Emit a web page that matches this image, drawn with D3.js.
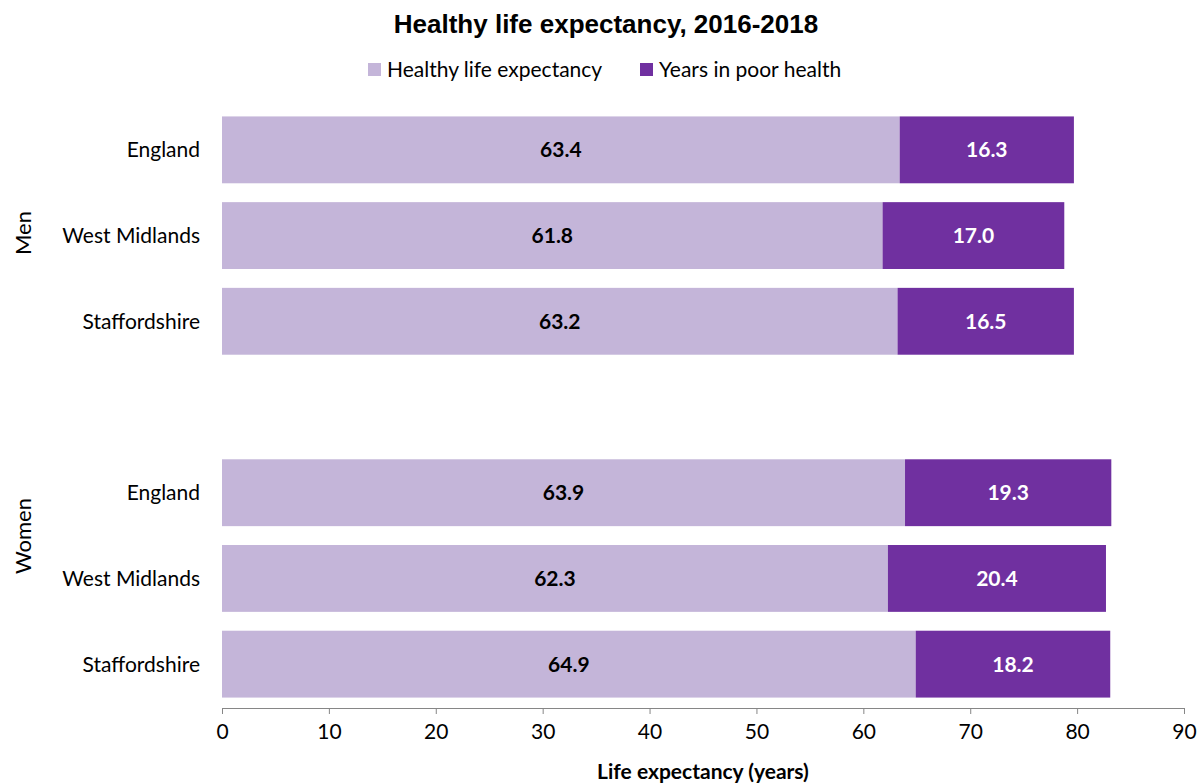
<!DOCTYPE html>
<html>
<head>
<meta charset="utf-8">
<script src="https://cdn.jsdelivr.net/npm/d3@7"></script>
<style>
  body { margin: 0; background: #fff; }
  svg { display: block; }
</style>
</head>
<body>
<svg id="drawing_region"></svg>
<script>
// data
const groups = ["Men", "Women"];
const places = ["England", "West Midlands", "Staffordshire"];
const healthyMen = [63.4, 61.8, 63.2];
const poorMen = [16.3, 17.0, 16.5];
const healthyWomen = [63.9, 62.3, 64.9];
const poorWomen = [19.3, 20.4, 18.2];
const seriesNames = ["Healthy life expectancy", "Years in poor health"];
const xTicks = [0, 10, 20, 30, 40, 50, 60, 70, 80, 90];

const colors = ["#c4b5d9", "#7030a0"];
const font = "Lato, 'Open Sans', sans-serif";
const fs = "21px";

// rows: men, blank slot, women
const rows = [];
places.forEach((p, i) => rows.push({ key: "Men-" + p, place: p, group: "Men", healthy: healthyMen[i], poor: poorMen[i] }));
rows.push({ key: "gap" });
places.forEach((p, i) => rows.push({ key: "Women-" + p, place: p, group: "Women", healthy: healthyWomen[i], poor: poorWomen[i] }));
const bars = rows.filter(d => d.key !== "gap");

const width = 1202, height = 783;
const svg = d3.select("#drawing_region")
    .attr("width", width)
    .attr("height", height);

const x = d3.scaleLinear().domain([0, 90]).range([222, 1184]);
const y = d3.scaleBand()
    .domain(rows.map(d => d.key))
    .range([107, 707])
    .paddingInner(0.22)
    .paddingOuter(0.11);

// title
svg.append("text")
    .attr("x", 606).attr("y", 33)
    .attr("text-anchor", "middle")
    .style("font-family", "'Liberation Sans', Arial, sans-serif")
    .style("font-weight", "bold")
    .style("font-size", "26px")
    .text("Healthy life expectancy, 2016-2018");

// legend
const legendX = [368, 640];
seriesNames.forEach((name, i) => {
    svg.append("rect")
        .attr("x", legendX[i]).attr("y", 63)
        .attr("width", 13).attr("height", 13)
        .attr("fill", colors[i]);
    svg.append("text")
        .attr("x", legendX[i] + 19).attr("y", 77)
        .style("font-family", font)
        .style("font-size", fs)
        .attr("fill", "#000")
        .text(name);
});

// bars
svg.selectAll(".healthy")
    .data(bars)
    .enter()
    .append("rect")
    .attr("class", "healthy")
    .attr("x", x(0))
    .attr("y", d => y(d.key))
    .attr("width", d => x(d.healthy) - x(0))
    .attr("height", y.bandwidth())
    .attr("fill", colors[0]);

svg.selectAll(".poor")
    .data(bars)
    .enter()
    .append("rect")
    .attr("class", "poor")
    .attr("x", d => x(d.healthy))
    .attr("y", d => y(d.key))
    .attr("width", d => x(d.healthy + d.poor) - x(d.healthy))
    .attr("height", y.bandwidth())
    .attr("fill", colors[1]);

// value labels
svg.selectAll(".lab1")
    .data(bars)
    .enter()
    .append("text")
    .attr("x", d => (x(0) + x(d.healthy)) / 2)
    .attr("y", d => y(d.key) + y.bandwidth() / 2)
    .attr("dy", "0.36em")
    .attr("text-anchor", "middle")
    .style("font-family", font)
    .style("font-weight", "bold")
    .style("font-size", fs)
    .attr("fill", "#000")
    .text(d => d.healthy.toFixed(1));

svg.selectAll(".lab2")
    .data(bars)
    .enter()
    .append("text")
    .attr("x", d => (x(d.healthy) + x(d.healthy + d.poor)) / 2)
    .attr("y", d => y(d.key) + y.bandwidth() / 2)
    .attr("dy", "0.36em")
    .attr("text-anchor", "middle")
    .style("font-family", font)
    .style("font-weight", "bold")
    .style("font-size", fs)
    .attr("fill", "#fff")
    .text(d => d.poor.toFixed(1));

// category labels
svg.selectAll(".cat")
    .data(bars)
    .enter()
    .append("text")
    .attr("x", 200)
    .attr("y", d => y(d.key) + y.bandwidth() / 2)
    .attr("dy", "0.36em")
    .attr("text-anchor", "end")
    .style("font-family", font)
    .style("font-size", fs)
    .attr("fill", "#000")
    .text(d => d.place);

// group labels
const groupY = { Men: 233, Women: 536 };
groups.forEach(g => {
    svg.append("text")
        .attr("transform", `translate(31, ${groupY[g]}) rotate(-90)`)
        .attr("text-anchor", "middle")
        .style("font-family", font)
        .style("font-size", "22px")
        .attr("fill", "#000")
        .text(g);
});

// x axis
const xAxis = svg.append("g")
    .attr("transform", "translate(0, 708)")
    .call(d3.axisBottom(x).tickValues(xTicks).tickSizeInner(6).tickSizeOuter(0).tickPadding(10));
xAxis.select(".domain").attr("stroke", "#868686");
xAxis.selectAll(".tick line").attr("stroke", "#868686");
xAxis.selectAll(".tick text")
    .style("font-family", font)
    .style("font-size", fs)
    .attr("fill", "#000");

svg.append("text")
    .attr("x", 703).attr("y", 779)
    .attr("text-anchor", "middle")
    .style("font-family", font)
    .style("font-weight", "bold")
    .style("font-size", "21px")
    .attr("fill", "#000")
    .text("Life expectancy (years)");
</script>
</body>
</html>
